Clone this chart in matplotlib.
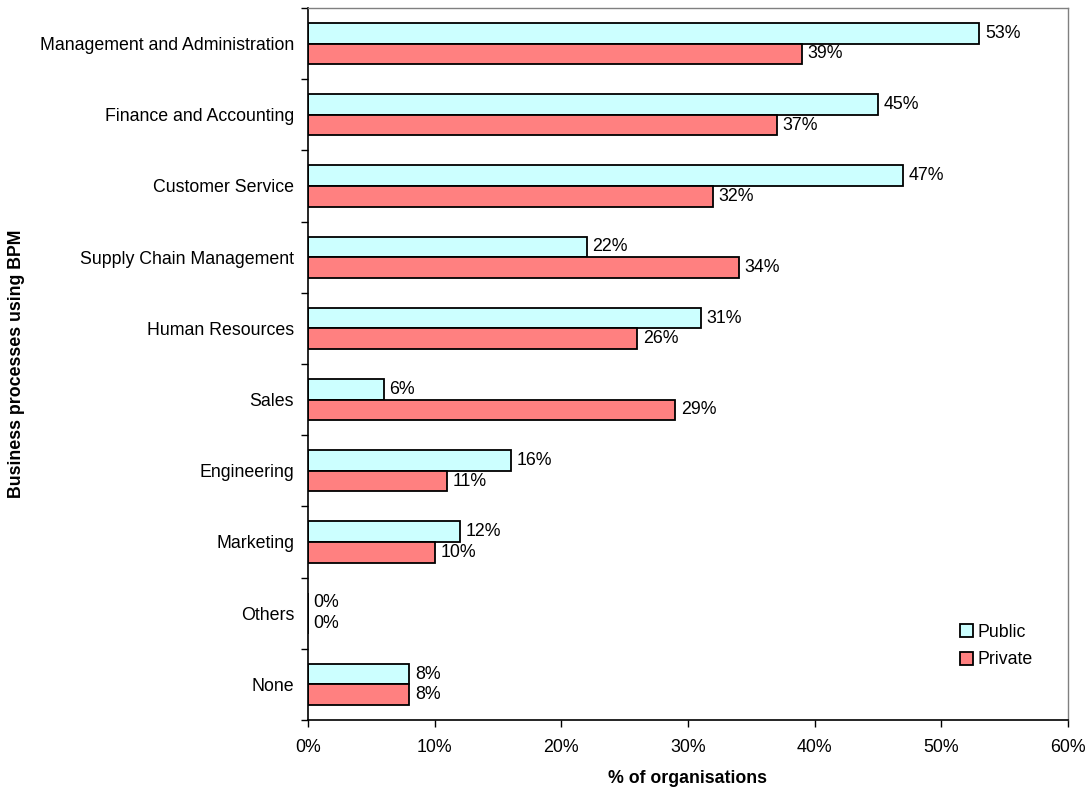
import matplotlib
matplotlib.use("Agg")
import matplotlib.pyplot as plt
import numpy as np
from matplotlib.patches import Patch
from matplotlib.ticker import FixedLocator, PercentFormatter

plt.rcParams['font.family'] = ['Liberation Sans', 'DejaVu Sans']

categories = ["Management and Administration", "Finance and Accounting",
              "Customer Service", "Supply Chain Management", "Human Resources",
              "Sales", "Engineering", "Marketing", "Others", "None"]
public = [53, 45, 47, 22, 31, 6, 16, 12, 0, 8]
private = [39, 37, 32, 34, 26, 29, 11, 10, 0, 8]
x_ticks = [0, 10, 20, 30, 40, 50, 60]

public_color = "#CCFFFF"
private_color = "#FF8080"
fs = 12.8

fig = plt.figure(figsize=(10.88, 7.89), dpi=100)
ax = fig.add_axes([0.283, 0.0875, 0.6986, 0.9024])

n = len(categories)
pos = np.arange(n)
h = 0.29

ax.barh(pos - h / 2, public, height=h, color=public_color,
        edgecolor="black", linewidth=1.3, label="Public")
ax.barh(pos + h / 2, private, height=h, color=private_color,
        edgecolor="black", linewidth=1.3, label="Private")

for y, v in zip(pos - h / 2, public):
    ax.annotate(f"{v}%", (v, y), xytext=(4, 0), textcoords="offset points",
                va="center", ha="left", fontsize=fs)
for y, v in zip(pos + h / 2, private):
    ax.annotate(f"{v}%", (v, y), xytext=(4, 0), textcoords="offset points",
                va="center", ha="left", fontsize=fs)

ax.set_xlim(0, 60)
ax.set_ylim(n - 0.5, -0.5)
ax.xaxis.set_major_locator(FixedLocator(x_ticks))
ax.xaxis.set_major_formatter(PercentFormatter(decimals=0))

ax.set_yticks(pos)
ax.set_yticklabels(categories, fontsize=fs)
ax.yaxis.set_minor_locator(FixedLocator(np.arange(-0.5, n, 1.0)))
ax.tick_params(axis="y", which="major", length=0, pad=10)
ax.tick_params(axis="y", which="minor", length=5, width=1, direction="out")
ax.tick_params(axis="x", which="major", length=5, width=1, direction="out",
               labelsize=fs, pad=9)

for side in ("top", "right"):
    ax.spines[side].set_color("#808080")
    ax.spines[side].set_linewidth(1.0)
for side in ("left", "bottom"):
    ax.spines[side].set_color("black")
    ax.spines[side].set_linewidth(1.2)

ax.set_xlabel("% of organisations", fontsize=fs, fontweight="bold", labelpad=10)
ax.set_ylabel("Business processes using BPM", fontsize=fs, fontweight="bold")
ax.yaxis.set_label_coords(-0.372, 0.5)

handles = [Patch(facecolor=public_color, edgecolor="black", linewidth=1.3, label="Public"),
           Patch(facecolor=private_color, edgecolor="black", linewidth=1.3, label="Private")]
ax.legend(handles=handles, loc="lower right", bbox_to_anchor=(0.975, 0.05),
          frameon=False, fontsize=fs, handlelength=0.75, handleheight=0.75,
          handletextpad=0.25, labelspacing=0.6)

fig.savefig("out.png", dpi=100)
